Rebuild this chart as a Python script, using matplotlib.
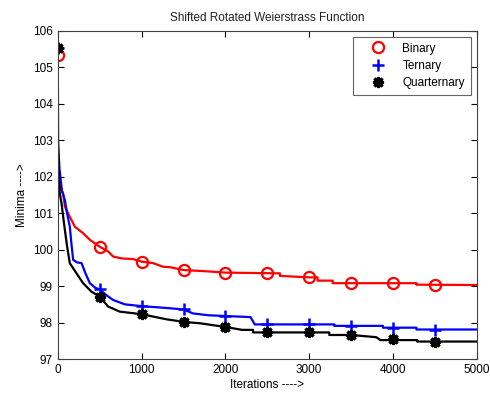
import numpy as np
import matplotlib
matplotlib.use("Agg")
import matplotlib.pyplot as plt

plt.rcParams['font.family'] = ['Liberation Sans', 'DejaVu Sans']

# convergence curves (iteration, minima)
bin_it = [0, 3, 30, 63, 84, 143, 203, 302, 382, 500, 600, 660, 760, 900, 1000, 1137, 1257,
          1337, 1500, 1750, 2000, 2650, 2650, 3000, 3100, 3100, 3280, 3280, 4280, 4280, 5000]
bin_val = [105.33, 102.0, 101.7, 101.55, 101.18, 100.9, 100.63, 100.45, 100.27, 100.08, 99.95,
           99.81, 99.76, 99.74, 99.67, 99.63, 99.53, 99.52, 99.44, 99.41, 99.37, 99.35, 99.28,
           99.24, 99.24, 99.15, 99.15, 99.08, 99.08, 99.04, 99.03]

ter_it = [0, 2, 20, 50, 84, 110, 143, 165, 183, 230, 283, 330, 382, 450, 500, 580, 660, 800,
          1000, 1300, 1500, 1615, 1800, 2000, 2300, 2350, 3300, 3300, 3880, 3880, 4280, 4280, 5000]
ter_val = [105.53, 103.0, 102.2, 101.6, 101.36, 101.0, 100.63, 100.1, 99.72, 99.65, 99.63,
           99.35, 99.08, 98.95, 98.91, 98.75, 98.62, 98.5, 98.45, 98.4, 98.36, 98.25, 98.2,
           98.18, 98.15, 97.95, 97.95, 97.91, 97.91, 97.86, 97.86, 97.81, 97.81]

qua_it = [0, 2, 20, 44, 84, 110, 143, 223, 302, 400, 500, 600, 740, 1000, 1297, 1500, 1700,
          2000, 2200, 2330, 2330, 3240, 3240, 3500, 3800, 3850, 4290, 4290, 5000]
qua_val = [105.53, 102.8, 101.6, 101.27, 100.54, 100.1, 99.63, 99.35, 99.08, 98.85, 98.71,
           98.44, 98.30, 98.23, 98.09, 98.02, 97.98, 97.88, 97.8, 97.8, 97.73, 97.73, 97.66,
           97.66, 97.6, 97.52, 97.52, 97.48, 97.48]

# markers every 500 iterations
mark_it = [0, 500, 1000, 1500, 2000, 2500, 3000, 3500, 4000, 4500]
bin_mark = [105.33, 100.08, 99.67, 99.44, 99.37, 99.35, 99.24, 99.08, 99.08, 99.04]
ter_mark = [105.53, 98.91, 98.45, 98.36, 98.18, 97.95, 97.95, 97.91, 97.86, 97.81]
qua_mark = [105.53, 98.71, 98.23, 98.02, 97.88, 97.73, 97.73, 97.66, 97.54, 97.48]

fig = plt.figure(figsize=(4.9, 3.95), dpi=100)
ax = fig.add_axes([0.118, 0.091, 0.855, 0.831])

ax.plot(bin_it, bin_val, color='red', lw=1.6)
ax.plot(ter_it, ter_val, color='blue', lw=1.6)
ax.plot(qua_it, qua_val, color='black', lw=1.6)

ax.plot(mark_it, bin_mark, ls='none', marker='o', ms=8, mfc='none', mec='red', mew=1.6,
        label='Binary')
ax.plot(mark_it, ter_mark, ls='none', marker='+', ms=9, mec='blue', mew=1.8,
        label='Ternary')
ax.plot(mark_it, qua_mark, ls='none', marker=(8, 2, 0), ms=8, mec='black', mew=2.2,
        label='Quarternary')

ax.set_xlim(0, 5000)
ax.set_ylim(97, 106)
ax.set_xticks(np.arange(0, 5001, 1000))
ax.set_yticks(np.arange(97, 107, 1))
ax.tick_params(direction='in', top=True, right=True, labelsize=8.5, length=4, width=0.8)
for s in ax.spines.values():
    s.set_color('#404040')
    s.set_linewidth(0.8)

ax.set_title('Shifted Rotated Weierstrass Function', fontsize=8.5, color='#202020', pad=7)
ax.set_xlabel('Iterations ---->', fontsize=8.5, labelpad=2)
ax.set_ylabel('Minima ---->', fontsize=8.5, labelpad=4)

leg = ax.legend(loc='upper right', fontsize=8.5, frameon=True, fancybox=False,
                edgecolor='#404040', borderaxespad=0.5, handletextpad=0.45,
                labelspacing=0.45, handlelength=3.2, borderpad=0.5)
leg.get_frame().set_linewidth(0.8)

fig.savefig('out.png', dpi=100)
